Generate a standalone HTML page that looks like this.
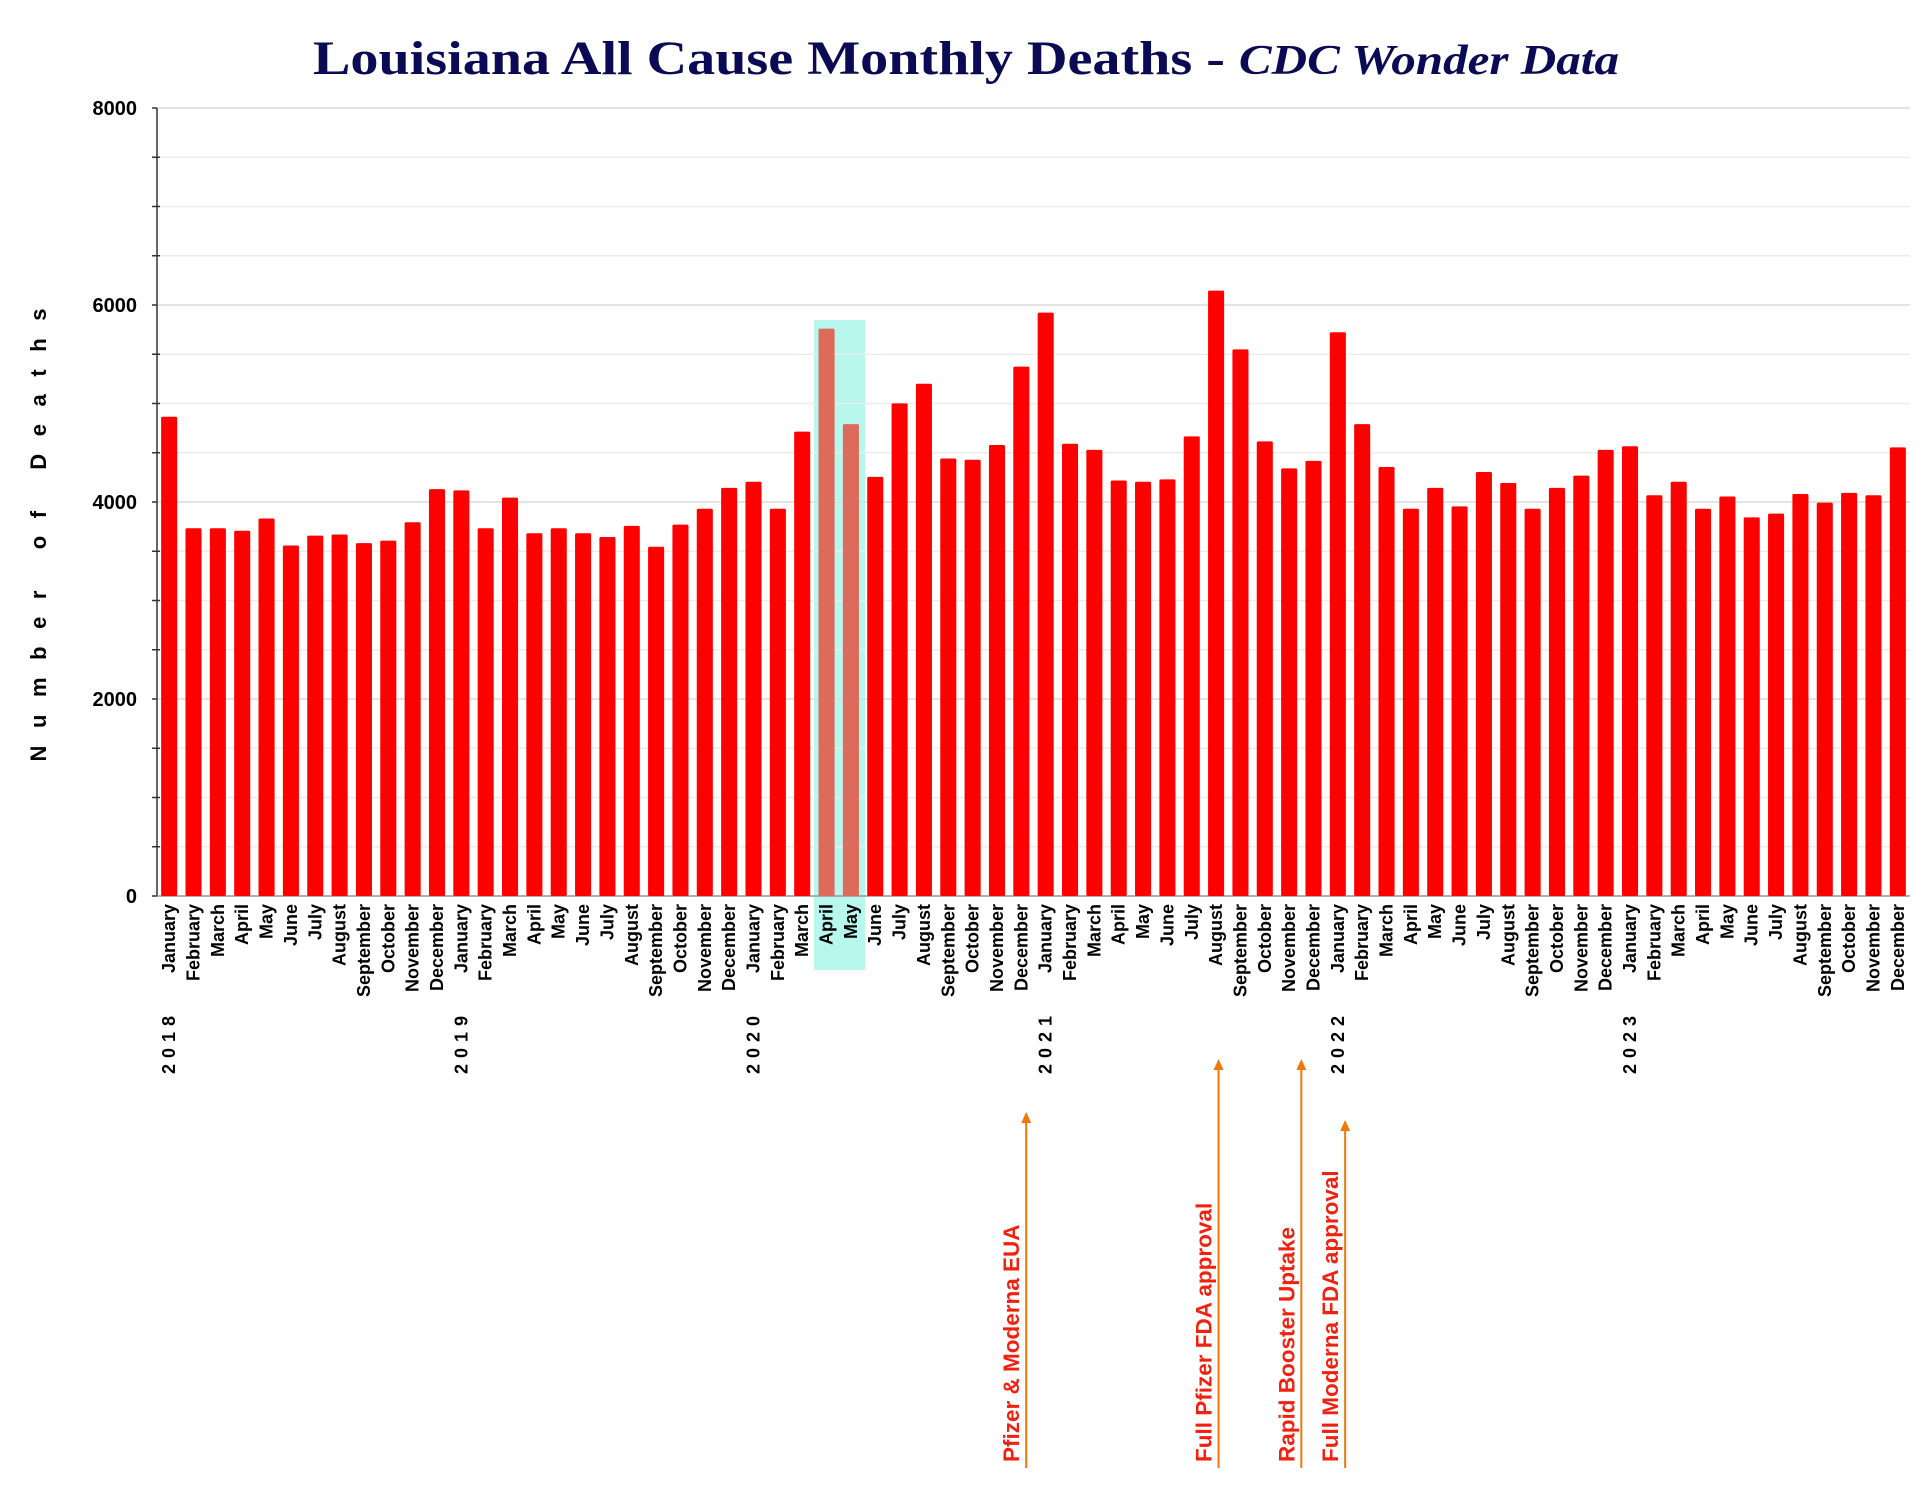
<!DOCTYPE html>
<html><head><meta charset="utf-8"><style>
html,body{margin:0;padding:0;background:#fff}
svg{display:block}
.tk{font-family:"Liberation Sans",sans-serif;font-weight:bold;font-size:17px;fill:#000}
</style></head><body>
<svg id="chart" width="1923" height="1485" viewBox="0 0 1923 1485">
<text x="313" y="74" textLength="1306" lengthAdjust="spacingAndGlyphs" font-family="Liberation Serif,serif" font-weight="bold" font-size="48" fill="#0b0b55">Louisiana All Cause Monthly Deaths - <tspan font-style="italic" font-size="42">CDC Wonder Data</tspan></text>
<text transform="translate(46,527) rotate(-90)" text-anchor="middle" textLength="469" font-family="Liberation Sans,sans-serif" font-weight="bold" font-size="22" letter-spacing="16">Number of Deaths</text>
<rect x="814" y="320" width="51" height="650" fill="#b8f7ee"/>
<g id="grid"></g><g id="bars"></g><g id="xlabels"></g><g id="annot"></g>
</svg>
<script>
const years=["2018","2019","2020","2021","2022","2023"];
const months=["January","February","March","April","May","June","July","August","September","October","November","December"];
const deaths=[4865,3733,3733,3708,3832,3558,3658,3670,3583,3608,3795,4131,
4118,3733,4044,3683,3733,3683,3645,3758,3546,3770,3931,4143,
4205,3931,4715,5760,4790,4255,5001,5200,4442,4429,4579,5375,
5922,4591,4529,4218,4205,4230,4666,6146,5549,4616,4342,4417,
5723,4790,4355,3931,4143,3956,4305,4193,3931,4143,4268,4529,
4566,4068,4205,3931,4056,3844,3882,4081,3994,4093,4068,4554];
const yTicks=[0,2000,4000,6000,8000];
const highlighted=[27,28];
const annotations=["Pfizer & Moderna EUA","Full Pfizer FDA approval","Rapid Booster Uptake","Full Moderna FDA approval"];
const annotIndex=[35.2,43.1,46.5,48.3];
const annotTop=[1112,1059,1059,1120];

const NS="http://www.w3.org/2000/svg";
const X0=157,X1=1910,Y0=896,Y1=108,YMAX=8000;
const step=(X1-X0)/deaths.length;
const xc=i=>X0+step*(i+0.5);
const y=v=>Y0-(v/YMAX)*(Y0-Y1);
function mk(t,a,p){const e=document.createElementNS(NS,t);for(const k in a)e.setAttribute(k,a[k]);(p||document.getElementById('chart')).appendChild(e);return e;}
const grid=document.getElementById('grid');
for(let v=0;v<=YMAX;v+=500){
  const g=mk('line',{x1:X0,x2:X1,y1:y(v),y2:y(v),stroke:v%2000===0?'#dcdcdc':'#ececec','stroke-width':1.5},grid);
  
  
  const t=mk('line',{x1:X0-5,x2:X0+(v%2000===0?0:3),y1:y(v),y2:y(v),stroke:'#333','stroke-width':1.5},grid);
  
  
}
yTicks.forEach(v=>{
  const t=mk('text',{x:X0-20,y:y(v)+7,'text-anchor':'end',class:'tk','font-size':20,style:'font-size:20px'},grid);
  t.textContent=v;
  
  
});
const ax=mk('line',{x1:X0,x2:X0,y1:Y1,y2:Y0,stroke:'#333','stroke-width':1.5},grid);


const bx=mk('line',{x1:X0,x2:X1,y1:Y0,y2:Y0,stroke:'#999','stroke-width':1.5},grid);


const bars=document.getElementById('bars'),xl=document.getElementById('xlabels');
const bw=step*0.66;
deaths.forEach((v,i)=>{
  const r=mk('rect',{x:xc(i)-bw/2,y:y(v),width:bw,height:Y0-y(v),rx:1.5,fill:highlighted.includes(i)?'#dc6b5c':'#ff0000'},bars);
  
  
  const t=mk('text',{transform:`translate(${xc(i)+6},${Y0+8}) rotate(-90)`,'text-anchor':'end',class:'tk',style:'font-size:18px'},xl);
  t.textContent=months[i%12];
  
  
  if(i%12===0){
    const yt=mk('text',{transform:`translate(${xc(i)+6},${Y0+1074-896}) rotate(-90)`,'text-anchor':'start',class:'tk','letter-spacing':6,style:'font-size:18px'},xl);
    yt.textContent=years[i/12];
    
    
  }
});
const an=document.getElementById('annot');
annotations.forEach((s,k)=>{
  const ax=xc(annotIndex[k]);
  const l=mk('line',{x1:ax,x2:ax,y1:1468,y2:annotTop[k]+10,stroke:'#f07808','stroke-width':2},an);
  
  
  const h=mk('polygon',{points:`${ax-5},${annotTop[k]+11} ${ax+5},${annotTop[k]+11} ${ax},${annotTop[k]}`,fill:'#f07808'},an);
  
  
  const t=mk('text',{transform:`translate(${ax-7},1462) rotate(-90)`,'font-family':'Liberation Sans,sans-serif','font-weight':'bold','font-size':22.5,fill:'#f2200f'},an);
  t.textContent=s;
  
  
});
</script>
</body></html>
